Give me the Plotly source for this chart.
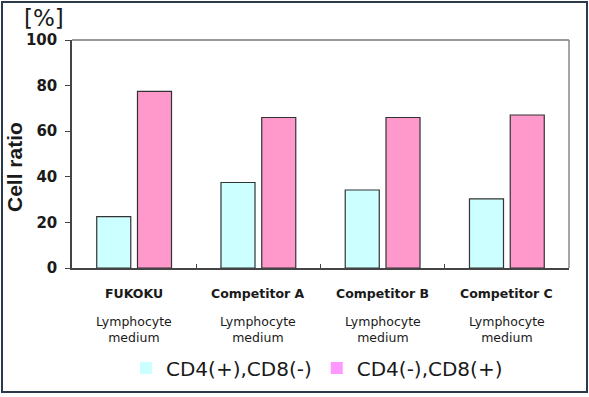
import plotly.graph_objects as go

categories = ["FUKOKU", "Competitor A", "Competitor B", "Competitor C"]
sub_label = "Lymphocyte<br>medium"
cd4_pos = [22.5, 37.5, 34.2, 30.3]
cd8_pos = [77.5, 66.0, 66.0, 67.1]
series_names = ["CD4(+),CD8(-)", "CD4(-),CD8(+)"]
y_ticks = [0, 20, 40, 60, 80, 100]

W, H = 589, 397
L, R, T, B = 72, 20, 40, 129
pw, ph = W - L - R, H - T - B

def px_x(x):
    return (x - L) / pw

def px_y(y):
    return (H - B - y) / ph

fig = go.Figure()
fig.add_trace(go.Bar(x=categories, y=cd4_pos, name=series_names[0],
                     marker=dict(color="#ccffff", line=dict(color="#333333", width=1.2)),
                     showlegend=False))
fig.add_trace(go.Bar(x=categories, y=cd8_pos, name=series_names[1],
                     marker=dict(color="#ff99cc", line=dict(color="#333333", width=1.2)),
                     showlegend=False))
# legend entries
fig.add_trace(go.Scatter(x=[None], y=[None], mode="markers", name=series_names[0],
                         marker=dict(symbol="square", size=16, color="#ccffff")))
fig.add_trace(go.Scatter(x=[None], y=[None], mode="markers", name=series_names[1],
                         marker=dict(symbol="square", size=16, color="#ff99ff")))

annotations = [
    dict(text="[%]", xref="paper", yref="paper", x=px_x(44), y=px_y(18),
         xanchor="center", yanchor="middle",
         showarrow=False, font=dict(size=23, family="DejaVu Sans", color="#1a1a1a")),
    dict(text="<b>Cell ratio</b>", xref="paper", yref="paper", x=px_x(14), y=px_y(167),
         xanchor="center", yanchor="middle",
         textangle=-90, showarrow=False,
         font=dict(size=21, family="Liberation Sans", color="#1a1a1a")),
]
for c in categories:
    annotations.append(dict(text=f"<b>{c}</b>", x=c, xref="x", yref="paper", y=px_y(293),
                            showarrow=False, yanchor="middle", xanchor="center",
                            font=dict(size=12.5, family="DejaVu Sans", color="#1a1a1a")))
    annotations.append(dict(text=sub_label, x=c, xref="x", yref="paper", y=px_y(329),
                            showarrow=False, yanchor="middle", xanchor="center",
                            font=dict(size=12.5, family="DejaVu Sans", color="#1a1a1a")))

fig.update_layout(
    width=W, height=H,
    margin=dict(l=L, r=R, t=T, b=B, autoexpand=False),
    paper_bgcolor="white", plot_bgcolor="white",
    barmode="group", bargap=0.344, bargroupgap=0.165,
    font=dict(family="DejaVu Sans", color="#1a1a1a"),
    legend=dict(orientation="h", x=px_x(317), xanchor="center", y=px_y(368), yanchor="middle",
                font=dict(size=20, family="DejaVu Sans", color="#1a1a1a"), itemsizing="constant",
                bgcolor="rgba(0,0,0,0)"),
    xaxis=dict(type="category", categoryorder="array", categoryarray=categories,
               showticklabels=False, automargin=False,
               showline=True, linecolor="#444444", linewidth=1.5,
               ticks="inside", tickson="boundaries", ticklen=4, tickcolor="#444444",
               showgrid=False, fixedrange=True),
    yaxis=dict(range=[0, 100], tickvals=y_ticks, ticktext=[f"<b>{v}</b>" for v in y_ticks],
               tickfont=dict(size=15, family="DejaVu Sans"), automargin=False,
               ticklabelstandoff=5,
               showline=True, linecolor="#444444", linewidth=1.5,
               ticks="outside", ticklen=5, tickcolor="#444444",
               showgrid=False, zeroline=False, fixedrange=True),
    shapes=[
        dict(type="line", xref="paper", yref="paper", x0=0, x1=1, y0=1, y1=1,
             line=dict(color="#777777", width=1.5)),
        dict(type="line", xref="paper", yref="paper", x0=1, x1=1, y0=0, y1=1,
             line=dict(color="#888888", width=1.5)),
        dict(type="rect", xref="paper", yref="paper",
             x0=px_x(2), x1=px_x(587), y0=px_y(392), y1=px_y(2),
             line=dict(color="#2b3a4a", width=2)),
    ],
    annotations=annotations,
)

fig.write_html("out.html", config={"displayModeBar": False},
               post_script="document.body.style.margin='0';document.body.style.overflow='hidden';")
